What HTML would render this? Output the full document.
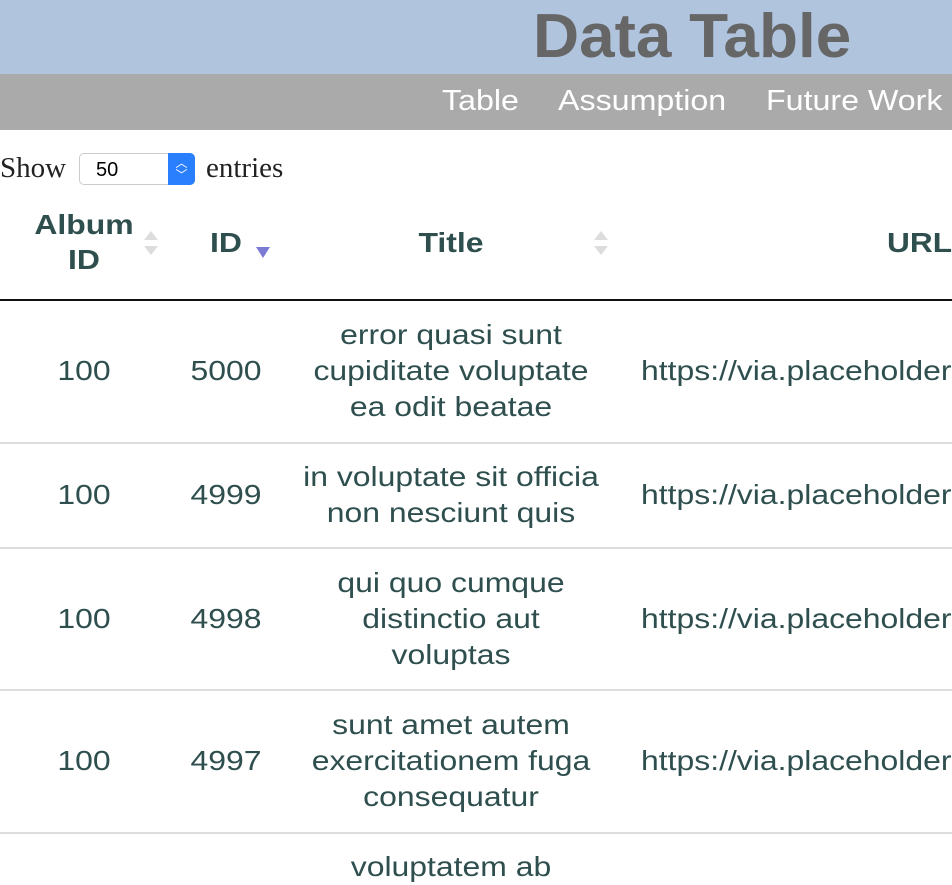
<!DOCTYPE html>
<html><head><style>
body{margin:0;width:952px;height:862px;overflow:hidden;background:#fff;font-family:"Liberation Sans",sans-serif;position:relative;color:#2f4f4f}
.a{position:absolute;white-space:nowrap}
.s{transform-origin:0 0;transform:scaleX(1.11)}
.c{position:absolute;text-align:center;font-size:28px;line-height:36px;transform:translateX(-50%) scaleX(1.14);white-space:nowrap}
.hr{position:absolute;left:0;width:952px;height:2px;background:#ddd}
.sort{position:absolute;width:0;height:0;border-left:7px solid transparent;border-right:7px solid transparent}
</style></head><body>
<div class="a" style="left:0;top:0;width:952px;height:74px;background:#b0c4de"></div>
<div class="a" style="left:533px;top:2px;font-size:62px;font-weight:bold;color:#666;line-height:70px;transform-origin:0 0;transform:scaleX(1.03)">Data Table</div>
<div class="a" style="left:0;top:74px;width:952px;height:56px;background:#aaa"></div>
<div class="a s" style="left:442px;top:83px;font-size:29px;color:#fff;line-height:36px">Table</div>
<div class="a s" style="left:558px;top:83px;font-size:29px;color:#fff;line-height:36px">Assumption</div>
<div class="a s" style="left:766px;top:83px;font-size:29px;color:#fff;line-height:36px">Future Work</div>

<div class="a" style="left:0;top:151px;font-family:'Liberation Serif',serif;font-size:29px;color:#222;line-height:34px">Show</div>
<div class="a" style="left:79px;top:153px;width:116px;height:32px;border:1px solid #ccc;border-radius:5px;box-sizing:border-box;background:#fff"></div>
<div class="a" style="left:96px;top:157px;font-size:20px;color:#000;line-height:26px">50</div>
<div class="a" style="left:168px;top:153px;width:27px;height:32px;background:#2a7fff;border-radius:0 5px 5px 0;color:#fff;font-size:12px;text-align:center;line-height:12px;padding-top:4px;box-sizing:border-box">︿<br>﹀</div>
<div class="a" style="left:206px;top:151px;font-family:'Liberation Serif',serif;font-size:29px;color:#222;line-height:34px">entries</div>

<div class="c" style="left:84px;top:207px;font-weight:bold;line-height:35px">Album<br>ID</div>
<div class="sort" style="left:144px;top:231px;border-bottom:9px solid #ddd"></div>
<div class="sort" style="left:144px;top:246px;border-top:9px solid #ddd"></div>
<div class="c" style="left:226px;top:225px;font-weight:bold">ID</div>
<div class="sort" style="left:256px;top:247px;border-top:11px solid #7b7bd6"></div>
<div class="c" style="left:451px;top:225px;font-weight:bold">Title</div>
<div class="sort" style="left:594px;top:231px;border-bottom:9px solid #ddd"></div>
<div class="sort" style="left:594px;top:246px;border-top:9px solid #ddd"></div>
<div class="a" style="left:887px;top:225px;font-size:28px;line-height:36px;font-weight:bold;transform-origin:0 0;transform:scaleX(1.13)">URL</div>
<div class="a" style="left:0;top:299px;width:952px;height:2px;background:#111"></div>

<div class="c" style="left:84px;top:353px">100</div>
<div class="c" style="left:226px;top:353px">5000</div>
<div class="c" style="left:451px;top:317px">error quasi sunt<br>cupiditate voluptate<br>ea odit beatae</div>
<div class="a" style="left:641px;top:353px;font-size:28px;line-height:36px;transform-origin:0 0;transform:scaleX(1.14)">https://via.placeholder</div>
<div class="hr" style="top:442px"></div>

<div class="c" style="left:84px;top:477px">100</div>
<div class="c" style="left:226px;top:477px">4999</div>
<div class="c" style="left:451px;top:459px">in voluptate sit officia<br>non nesciunt quis</div>
<div class="a" style="left:641px;top:477px;font-size:28px;line-height:36px;transform-origin:0 0;transform:scaleX(1.14)">https://via.placeholder</div>
<div class="hr" style="top:547px"></div>

<div class="c" style="left:84px;top:601px">100</div>
<div class="c" style="left:226px;top:601px">4998</div>
<div class="c" style="left:451px;top:565px">qui quo cumque<br>distinctio aut<br>voluptas</div>
<div class="a" style="left:641px;top:601px;font-size:28px;line-height:36px;transform-origin:0 0;transform:scaleX(1.14)">https://via.placeholder</div>
<div class="hr" style="top:689px"></div>

<div class="c" style="left:84px;top:743px">100</div>
<div class="c" style="left:226px;top:743px">4997</div>
<div class="c" style="left:451px;top:707px">sunt amet autem<br>exercitationem fuga<br>consequatur</div>
<div class="a" style="left:641px;top:743px;font-size:28px;line-height:36px;transform-origin:0 0;transform:scaleX(1.14)">https://via.placeholder</div>
<div class="hr" style="top:832px"></div>

<div class="c" style="left:451px;top:849px">voluptatem ab</div>
</body></html>
